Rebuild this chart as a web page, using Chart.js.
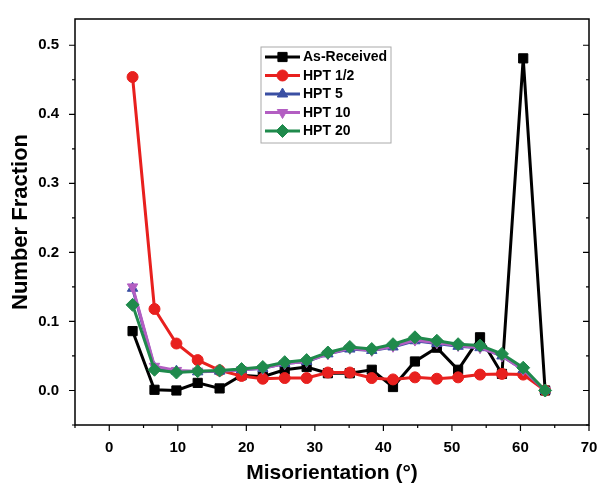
<!DOCTYPE html>
<html>
<head>
<meta charset="utf-8">
<script src="https://cdn.jsdelivr.net/npm/chart.js@4"></script>
<style>
  html, body { margin: 0; padding: 0; background: #fff; }
  canvas { display: block; }
</style>
</head>
<body>
<canvas id="chart" width="598" height="493"></canvas>
<script>
// misorientation bin centres (deg)
const angles = [3.4, 6.6, 9.8, 12.9, 16.1, 19.3, 22.4, 25.6, 28.8, 31.9,
  35.1, 38.3, 41.4, 44.6, 47.8, 50.9, 54.1, 57.3, 60.4, 63.6];

const asReceived = [0.086, 0.001, 0.000, 0.011, 0.003, 0.022, 0.020, 0.030, 0.034, 0.025,
  0.025, 0.030, 0.005, 0.042, 0.062, 0.030, 0.077, 0.024, 0.481, 0.000];
const hptHalf = [0.454, 0.118, 0.068, 0.044, 0.029, 0.021, 0.017, 0.018, 0.018, 0.026,
  0.026, 0.018, 0.016, 0.019, 0.017, 0.019, 0.023, 0.024, 0.023, 0.000];
const hpt5 = [0.148, 0.033, 0.028, 0.027, 0.028, 0.030, 0.032, 0.039, 0.042, 0.053,
  0.060, 0.058, 0.063, 0.072, 0.068, 0.064, 0.062, 0.050, 0.030, 0.000];
const hpt10 = [0.150, 0.035, 0.029, 0.028, 0.028, 0.030, 0.032, 0.039, 0.042, 0.053,
  0.061, 0.058, 0.064, 0.073, 0.069, 0.065, 0.062, 0.050, 0.030, 0.000];
const hpt20 = [0.124, 0.030, 0.026, 0.028, 0.029, 0.031, 0.034, 0.041, 0.044, 0.055,
  0.063, 0.060, 0.067, 0.077, 0.072, 0.067, 0.065, 0.053, 0.033, 0.000];

const xTicks = [0, 10, 20, 30, 40, 50, 60, 70];
const yTicks = [0.0, 0.1, 0.2, 0.3, 0.4, 0.5];

const FONT = "Arial, 'Liberation Sans', sans-serif";

function pts(ys) {
  return angles.map((a, i) => ({ x: a, y: ys[i] }));
}

function series(label, ys, color, style, radius, rotation, order) {
  return {
    label: label,
    data: pts(ys),
    borderColor: color,
    backgroundColor: color,
    pointBackgroundColor: color,
    pointBorderColor: color,
    pointStyle: style,
    pointRadius: radius,
    pointRotation: rotation,
    borderWidth: 3,
    pointBorderWidth: 1,
    showLine: true,
    order: order,
  };
}

// frame, tick marks and legend box
const framePlugin = {
  id: "frame",
  afterDraw(chart) {
    const ctx = chart.ctx;
    const a = chart.chartArea;
    const xs = chart.scales.x;
    const ys = chart.scales.y;
    ctx.save();
    ctx.strokeStyle = "#000";
    ctx.lineWidth = 1.5;
    ctx.strokeRect(a.left, a.top, a.right - a.left, a.bottom - a.top);

    ctx.lineWidth = 1.2;
    ctx.beginPath();
    for (let v = -5; v <= 70; v += 5) {
      const px = xs.getPixelForValue(v);
      const len = v % 10 === 0 ? 6 : 3;
      ctx.moveTo(px, a.bottom);
      ctx.lineTo(px, a.bottom + len);
    }
    for (let k = -1; k <= 10; k++) {
      const v = k * 0.05;
      const py = ys.getPixelForValue(v);
      const len = k % 2 === 0 ? 6 : 3;
      ctx.moveTo(a.left, py);
      ctx.lineTo(a.left - len, py);
      ctx.moveTo(a.right, py);
      ctx.lineTo(a.right - len, py);
    }
    ctx.stroke();

    // legend
    const lx = 261, ly = 47, lw = 130, lh = 96;
    ctx.lineWidth = 1;
    ctx.strokeStyle = "#aaa";
    ctx.strokeRect(lx, ly, lw, lh);
    ctx.font = "bold 14px " + FONT;
    ctx.textBaseline = "middle";
    chart.data.datasets.forEach((ds, i) => {
      const y = ly + 10 + i * 18.5;
      ctx.strokeStyle = ds.borderColor;
      ctx.lineWidth = 3;
      ctx.beginPath();
      ctx.moveTo(lx + 4, y);
      ctx.lineTo(lx + 39, y);
      ctx.stroke();
      ctx.fillStyle = ds.borderColor;
      ctx.strokeStyle = ds.borderColor;
      ctx.lineWidth = 1;
      Chart.helpers.drawPoint(ctx, {
        pointStyle: ds.pointStyle,
        radius: ds.pointRadius,
        rotation: ds.pointRotation,
        borderWidth: 1,
      }, lx + 21.5, y);
      ctx.fillStyle = "#000";
      ctx.fillText(ds.label, lx + 42, y + 0.5);
    });
    ctx.restore();
  },
};

const ctx = document.getElementById("chart").getContext("2d");

const chart = new Chart(ctx, {
  type: "scatter",
  data: {
    datasets: [
      series("As-Received", asReceived, "#000000", "rect", 6.5, 0, 5),
      series("HPT 1/2", hptHalf, "#e8201e", "circle", 5.5, 0, 4),
      series("HPT 5", hpt5, "#3a4fa3", "triangle", 6, 0, 3),
      series("HPT 10", hpt10, "#b35ec2", "triangle", 6, 180, 2),
      series("HPT 20", hpt20, "#1f8a4c", "rectRot", 6.5, 0, 1),
    ],
  },
  options: {
    responsive: false,
    animation: false,
    layout: { padding: { top: 19, right: 9, left: 0, bottom: 0 } },
    scales: {
      x: {
        type: "linear",
        min: -5,
        max: 70,
        grid: { display: false },
        border: { display: false },
        afterBuildTicks: (scale) => {
          scale.ticks = xTicks.map((v) => ({ value: v }));
        },
        afterFit: (scale) => {
          scale.height = 68;
          scale.paddingLeft = 0;
          scale.paddingRight = 0;
        },
        ticks: {
          color: "#000",
          padding: 6,
          font: { family: FONT, size: 15, weight: "bold" },
          maxRotation: 0,
        },
        title: {
          display: true,
          text: "Misorientation (°)",
          color: "#000",
          font: { family: FONT, size: 21, weight: "bold" },
          padding: { top: 4, bottom: 7 },
        },
      },
      y: {
        min: -0.05,
        max: 0.538,
        grid: { display: false },
        border: { display: false },
        afterBuildTicks: (scale) => {
          scale.ticks = yTicks.map((v) => ({ value: v }));
        },
        afterFit: (scale) => {
          scale.width = 75;
          scale.paddingTop = 0;
          scale.paddingBottom = 0;
        },
        ticks: {
          color: "#000",
          padding: 8,
          font: { family: FONT, size: 15, weight: "bold" },
          callback: (v) => Number(v).toFixed(1),
        },
        title: {
          display: true,
          text: "Number Fraction",
          color: "#000",
          font: { family: FONT, size: 22, weight: "bold" },
          padding: { top: 8, bottom: 4 },
        },
      },
    },
    plugins: {
      legend: { display: false },
      tooltip: { enabled: false },
    },
  },
  plugins: [framePlugin],
});
</script>
</body>
</html>
